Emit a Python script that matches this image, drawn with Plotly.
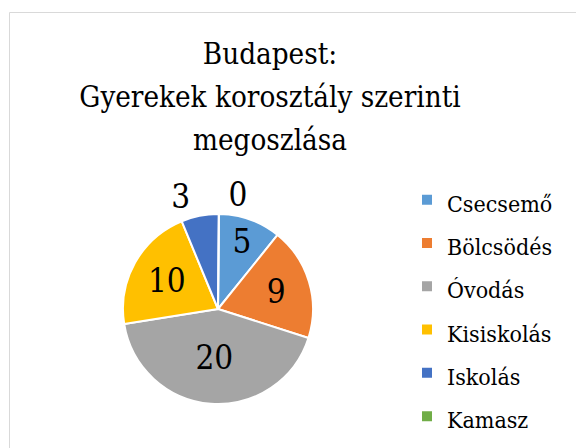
import plotly.graph_objects as go

categories = ["Csecsemő", "Bölcsödés", "Óvodás", "Kisiskolás", "Iskolás", "Kamasz"]
values = [5, 9, 20, 10, 3, 0]
colors = ["#5B9BD5", "#ED7D31", "#A5A5A5", "#FFC000", "#4472C4", "#70AD47"]
text_positions = ["inside", "inside", "inside", "inside", "outside", "outside"]
title_lines = ["Budapest:", "Gyerekek korosztály szerinti", "megoszlása"]

FONT = "DejaVu Serif Condensed"
W, H = 584, 448

title_text = "<br>".join(f"<span style='font-size:29.3px'>{t}</span>" for t in title_lines)
legend_labels = [f"<span style='font-size:23px'>{c}</span>" for c in categories]

cx, cy, r = 210, 301, 95
fig = go.Figure(go.Pie(
    labels=legend_labels,
    values=values,
    sort=False,
    direction="clockwise",
    rotation=0.5,
    marker=dict(colors=colors, line=dict(color="white", width=2)),
    textinfo="value",
    textposition=text_positions,
    insidetextfont=dict(family=FONT, size=33, color="black"),
    outsidetextfont=dict(family=FONT, size=33, color="black"),
    domain=dict(x=[(cx - r) / W, (cx + r) / W], y=[1 - (cy + r) / H, 1 - (cy - r) / H]),
    hoverinfo="label+value",
))

fig.update_layout(
    width=W, height=H,
    margin=dict(l=0, r=0, t=0, b=0),
    paper_bgcolor="white",
    font=dict(family=FONT, color="black"),
    title=dict(text=title_text, x=262 / W, xanchor="center", y=1 - 56 / H, yanchor="top",
               yref="container", font=dict(family=FONT, size=33, color="black")),
    legend=dict(x=399 / W, xanchor="left", y=1 - 300 / H, yanchor="middle",
                font=dict(family=FONT, size=31, color="black"), bgcolor="rgba(0,0,0,0)"),
    shapes=[dict(type="rect", xref="paper", yref="paper", x0=1.5 / W, x1=1.2,
                 y0=-0.2, y1=1 - 4.5 / H, line=dict(color="#D9D9D9", width=1),
                 fillcolor="rgba(0,0,0,0)", layer="above")],
)

fig.write_html("out.html")
